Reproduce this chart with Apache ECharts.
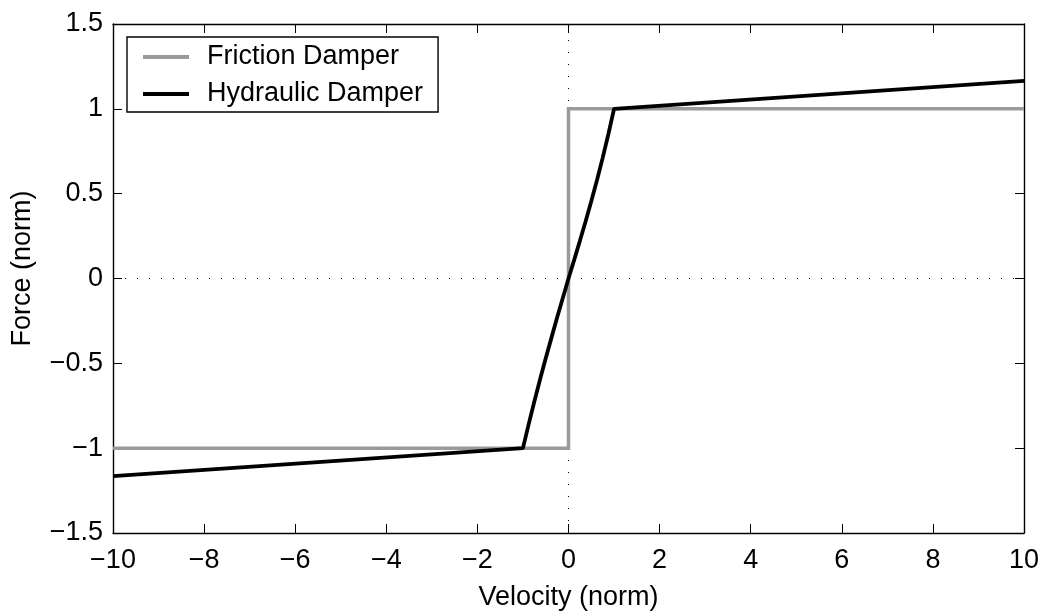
<!DOCTYPE html>
<html>
<head>
<meta charset="utf-8">
<script src="https://cdn.jsdelivr.net/npm/echarts@6/dist/echarts.min.js"></script>
<style>
html,body{margin:0;padding:0;background:#fff;}
#chart{width:1047px;height:612px;}
</style>
</head>
<body>
<div id="chart"></div>
<script>
// ---- data ----
var seriesNames = ['Friction Damper', 'Hydraulic Damper'];
var frictionV = [-10, 0, 0, 10];
var frictionF = [-1, -1, 1, 1];
var hydraulicV = [-10, -1, -0.875, -0.75, -0.625, -0.5, -0.375, -0.25, -0.125, 0,
                  0.125, 0.25, 0.375, 0.5, 0.625, 0.75, 0.875, 1, 10];
var hydraulicF = [-1.165, -1, -0.86, -0.725, -0.595, -0.47, -0.35, -0.23, -0.115, 0,
                  0.11, 0.222, 0.336, 0.455, 0.579, 0.711, 0.85, 1, 1.165];
var xTickValues = [-10, -8, -6, -4, -2, 0, 2, 4, 6, 8, 10];
var yTickValues = [-1.5, -1, -0.5, 0, 0.5, 1, 1.5];
var xTitle = 'Velocity (norm)';
var yTitle = 'Force (norm)';

function pairs(xs, ys) { return xs.map(function (x, i) { return [x, ys[i]]; }); }
function fmt(v) { return String(v).replace('-', '\u2212'); }

var FONT = 'Liberation Sans, Arial, Helvetica, sans-serif';
var FS = 27;

var chart = echarts.init(document.getElementById('chart'), null, { renderer: 'canvas' });

var baseAxis = {
  axisLine: { show: true, onZero: false, lineStyle: { color: '#000', width: 1.4 } },
  axisTick: { show: true, inside: true, length: 9, lineStyle: { color: '#000', width: 1 } },
  splitLine: { show: false },
  axisLabel: { color: '#000', fontSize: FS, fontFamily: FONT, formatter: fmt }
};

var option = {
  animation: false,
  backgroundColor: '#fff',
  grid: { left: 113, right: 23, top: 24, bottom: 79, containLabel: false, outerBoundsMode: 'none' },
  legend: {
    data: seriesNames,
    orient: 'vertical',
    left: 127, top: 37,
    backgroundColor: '#fff',
    borderColor: '#000', borderWidth: 1.4, borderRadius: 0,
    padding: [4, 15, 2, 16],
    itemGap: 5,
    itemWidth: 46, itemHeight: 4,
    icon: 'rect',
    textStyle: { color: '#000', fontSize: FS, fontFamily: FONT, lineHeight: 30, padding: [2, 0, 0, 13] }
  },
  xAxis: [
    Object.assign({}, baseAxis, {
      type: 'value', position: 'bottom', min: -10, max: 10, interval: 2,
      name: xTitle, nameLocation: 'middle', nameGap: 51,
      nameTextStyle: { color: '#000', fontSize: FS, fontFamily: FONT },
      axisLabel: Object.assign({}, baseAxis.axisLabel, { margin: 14 })
    }),
    Object.assign({}, baseAxis, {
      type: 'value', position: 'top', min: -10, max: 10, interval: 2,
      axisLabel: { show: false }
    })
  ],
  yAxis: [
    Object.assign({}, baseAxis, {
      type: 'value', position: 'left', min: -1.5, max: 1.5, interval: 0.5,
      name: yTitle, nameLocation: 'middle', nameGap: 77,
      nameTextStyle: { color: '#000', fontSize: FS, fontFamily: FONT, padding: [0, 0, 0, 20] },
      axisLabel: Object.assign({}, baseAxis.axisLabel, { margin: 10 })
    }),
    Object.assign({}, baseAxis, {
      type: 'value', position: 'right', min: -1.5, max: 1.5, interval: 0.5,
      axisLabel: { show: false }
    })
  ],
  series: [
    {
      name: seriesNames[0], type: 'line', xAxisIndex: 0, yAxisIndex: 0,
      data: pairs(frictionV, frictionF),
      symbol: 'none', color: '#9a9a9a',
      lineStyle: { color: '#9a9a9a', width: 3.5, join: 'miter' },
      z: 3,
      markLine: {
        silent: true, symbol: 'none', label: { show: false },
        lineStyle: { color: '#000', width: 1, type: [1, 11] },
        data: [{ xAxis: 0 }, { yAxis: 0 }],
        z: 1
      }
    },
    {
      name: seriesNames[1], type: 'line', xAxisIndex: 0, yAxisIndex: 0,
      data: pairs(hydraulicV, hydraulicF),
      symbol: 'none', color: '#000', smooth: false,
      lineStyle: { color: '#000', width: 3.8 },
      z: 4
    }
  ]
};
chart.setOption(option);
</script>
</body>
</html>
